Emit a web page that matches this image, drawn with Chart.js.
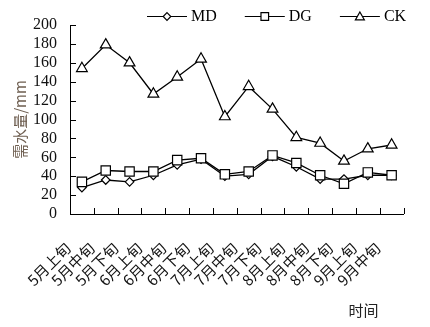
<!DOCTYPE html>
<html>
<head>
<meta charset="utf-8">
<script src="https://cdn.jsdelivr.net/npm/chart.js@4/dist/chart.umd.min.js"></script>
<style>
  html, body { margin: 0; padding: 0; background: #fff; }
</style>
</head>
<body>
<canvas id="myChart" width="430" height="327"></canvas>
<script>
// 时间 (旬)
const periods = ['5月上旬', '5月中旬', '5月下旬', '6月上旬', '6月中旬', '6月下旬', '7月上旬',
  '7月中旬', '7月下旬', '8月上旬', '8月中旬', '8月下旬', '9月上旬', '9月中旬'];
// 需水量/mm
const mdValues = [28, 36, 34, 41, 52, 58, 40, 42, 61, 50, 37, 37, 41, 41];
const dgValues = [34, 46, 45, 45, 57, 59, 42, 45, 62, 54, 41, 32, 44, 41];
const ckValues = [154, 179, 160, 127, 145, 164, 103, 135, 111, 81, 75, 56, 69, 73];
const yMin = 0, yMax = 200, yStep = 20;

const serif = '"Liberation Serif", "Times New Roman", serif';
const cjk = '"Noto Sans CJK SC", sans-serif';

// short tick marks pointing into the plot
const innerTicks = {
  id: 'innerTicks',
  afterDraw(chart) {
    const ctx = chart.ctx;
    const x = chart.scales.x, y = chart.scales.y;
    const area = chart.chartArea;
    ctx.save();
    ctx.strokeStyle = '#000';
    ctx.lineWidth = 1;
    ctx.beginPath();
    const n = periods.length;
    for (let i = 0; i <= n; i++) {
      const px = Math.round(area.left + (area.right - area.left) * i / n) + 0.5;
      ctx.moveTo(px, area.bottom);
      ctx.lineTo(px, area.bottom - 6);
    }
    y.ticks.forEach(t => {
      const py = Math.round(y.getPixelForValue(t.value)) + 0.5;
      ctx.moveTo(area.left, py);
      ctx.lineTo(area.left + 6, py);
    });
    ctx.stroke();

    // x axis name
    ctx.fillStyle = '#222';
    ctx.font = '15px ' + cjk;
    ctx.textAlign = 'right';
    ctx.textBaseline = 'middle';
    ctx.fillText('时间', area.right - 25, 310);
    ctx.restore();
  }
};

function marker(ctx, style, x, y, r) {
  ctx.beginPath();
  if (style === 'rectRot') {
    ctx.moveTo(x, y - r); ctx.lineTo(x + r, y); ctx.lineTo(x, y + r); ctx.lineTo(x - r, y);
    ctx.closePath();
  } else if (style === 'rect') {
    ctx.rect(x - r, y - r, 2 * r, 2 * r);
  } else {
    ctx.moveTo(x, y - r); ctx.lineTo(x + r, y + r * 0.75); ctx.lineTo(x - r, y + r * 0.75);
    ctx.closePath();
  }
  ctx.fill();
  ctx.stroke();
}

// legend: line with marker through it, then the name
const lineLegend = {
  id: 'lineLegend',
  afterDraw(chart) {
    const ctx = chart.ctx;
    ctx.save();
    ctx.font = '16px ' + serif;
    ctx.textBaseline = 'middle';
    ctx.textAlign = 'left';
    let x = 147;
    const y = 16;
    const sizes = { rectRot: 3.8, rect: 3.8, triangle: 4.5 };
    chart.data.datasets.slice().sort((a, b) => a.legendIndex - b.legendIndex).forEach(ds => {
      ctx.strokeStyle = '#000';
      ctx.lineWidth = 1.2;
      ctx.beginPath();
      ctx.moveTo(x, y + 0.5);
      ctx.lineTo(x + 40, y + 0.5);
      ctx.stroke();
      ctx.fillStyle = '#fff';
      marker(ctx, ds.pointStyle, x + 20, y + 0.5, sizes[ds.pointStyle]);
      ctx.fillStyle = '#000';
      ctx.fillText(ds.label, x + 44, y + 1);
      x += 44 + ctx.measureText(ds.label).width + 28;
    });
    ctx.restore();
  }
};

const ctx = document.getElementById('myChart').getContext('2d');
const myChart = new Chart(ctx, {
  type: 'line',
  data: {
    labels: periods,
    datasets: [
      {
        label: 'MD', data: mdValues, legendIndex: 0, order: 1,
        pointStyle: 'rectRot', pointRadius: 4.3,
      },
      {
        label: 'DG', data: dgValues, legendIndex: 1, order: 0,
        pointStyle: 'rect', pointRadius: 6.6,
      },
      {
        label: 'CK', data: ckValues, legendIndex: 2, order: 2,
        pointStyle: 'triangle', pointRadius: 6.2,
      },
    ].map(ds => Object.assign({
      borderColor: '#000',
      borderWidth: 1.3,
      backgroundColor: '#fff',
      pointBackgroundColor: '#fff',
      pointBorderColor: '#000',
      pointBorderWidth: 1.2,
      tension: 0,
    }, ds)),
  },
  options: {
    responsive: false,
    animation: false,
    events: [],
    layout: { padding: { left: 0, right: 18, top: 25, bottom: 0 } },
    plugins: {
      legend: { display: false },
      tooltip: { enabled: false },
    },
    scales: {
      x: {
        offset: true,
        grid: { display: false, drawTicks: false, offset: true },
        border: { display: true, color: '#000', width: 1 },
        ticks: {
          autoSkip: false,
          minRotation: 45,
          maxRotation: 45,
          padding: 25,
          labelOffset: -14,
          color: '#111',
          font: { family: cjk, size: 15 },
        },
        afterFit(scale) { scale.height = 113; },
      },
      y: {
        min: yMin,
        max: yMax,
        grid: { display: false, drawTicks: false },
        border: { display: true, color: '#000', width: 1 },
        ticks: {
          autoSkip: false,
          stepSize: yStep,
          padding: 13,
          color: '#111',
          font: { family: serif, size: 16 },
        },
        title: {
          display: true,
          text: '需水量/mm',
          color: '#6e5e50',
          padding: { top: 11, bottom: 0 },
          font: { family: cjk, size: 15 },
        },
        afterFit(scale) { scale.width = 70; },
      },
    },
  },
  plugins: [innerTicks, lineLegend],
});
</script>
</body>
</html>
